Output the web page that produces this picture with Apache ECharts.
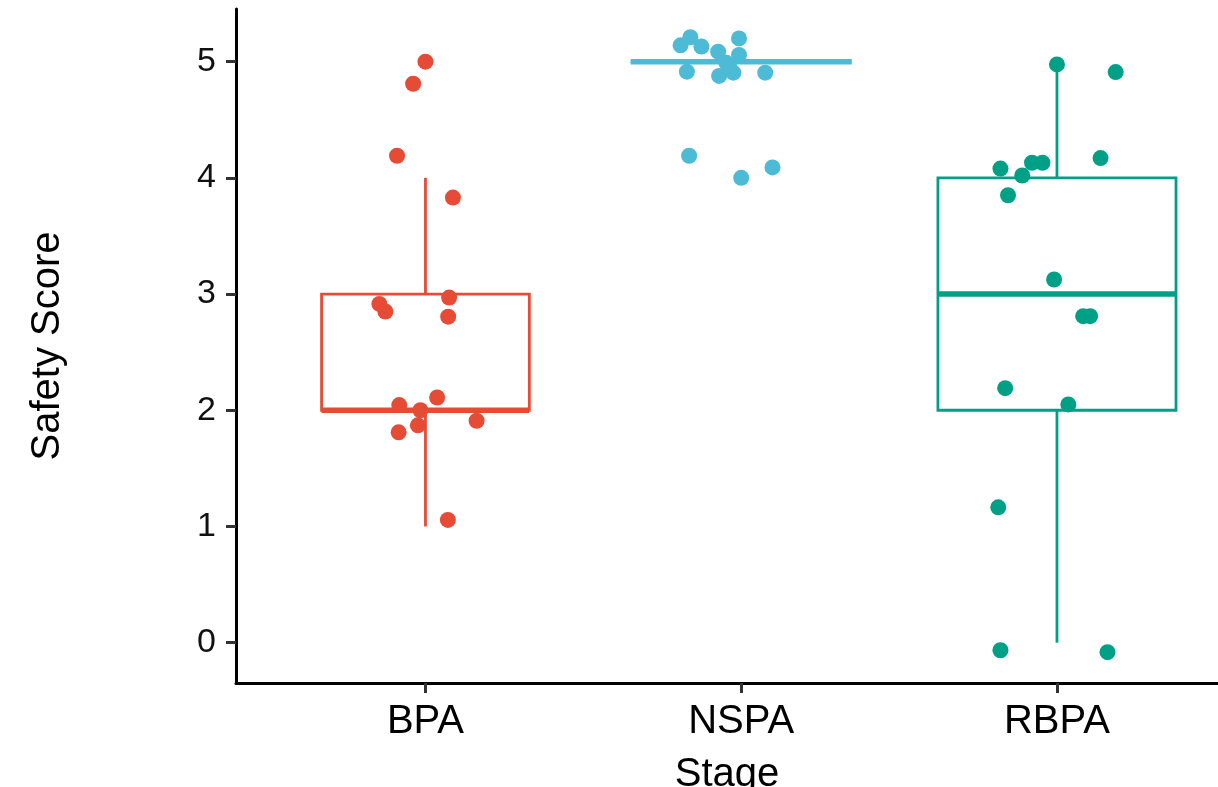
<!DOCTYPE html>
<html>
<head>
<meta charset="utf-8">
<title>Safety Score by Stage</title>
<script src="https://cdn.jsdelivr.net/npm/echarts@6/dist/echarts.min.js"></script>
<style>
  html, body { margin: 0; padding: 0; background: #fff; }
  #chart { width: 1218px; height: 787px; }
</style>
</head>
<body>
<div id="chart"></div>
<script>
// categories on the x axis
const categories = ["BPA", "NSPA", "RBPA"];

// box statistics per stage (whisker low, Q1, median, Q3, whisker high)
const boxLow = [1, 5, 0];
const boxQ1 = [2, 5, 2];
const boxMedian = [2, 5, 3];
const boxQ3 = [3, 5, 4];
const boxHigh = [4, 5, 5];

// jittered observations: score and horizontal jitter from the category centre
const bpaScore = [5.0, 4.81, 4.19, 3.83, 2.915, 2.85, 2.97, 2.805, 2.11, 2.045, 2.0, 1.87, 1.91, 1.81, 1.056];
const bpaJitter = [0.0, -0.039, -0.09, 0.087, -0.146, -0.127, 0.075, 0.072, 0.037, -0.083, -0.016, -0.024, 0.162, -0.085, 0.071];

const nspaScore = [5.21, 5.14, 5.13, 5.2, 5.086, 5.058, 4.99, 4.946, 4.914, 4.877, 4.905, 4.905, 4.19, 4.0, 4.09];
const nspaJitter = [-0.161, -0.192, -0.126, -0.007, -0.073, -0.007, -0.047, -0.037, -0.172, -0.07, -0.025, 0.076, -0.165, 0.0, 0.099];

const rbpaScore = [4.976, 4.91, 4.17, 4.08, 4.13, 4.13, 4.02, 3.85, 3.125, 2.81, 2.81, 2.19, 2.05, 1.165, -0.065, -0.082];
const rbpaJitter = [0.0, 0.186, 0.138, -0.179, -0.079, -0.046, -0.11, -0.155, -0.009, 0.083, 0.105, -0.164, 0.036, -0.186, -0.179, 0.16];

// y axis ticks
const yTicks = [0, 1, 2, 3, 4, 5];

const colors = ["#E64B35", "#4DBBD5", "#00A087"];
const boxHalfWidths = [0.329, 0.35, 0.377];
const fontFamily = "Liberation Sans, Arial, sans-serif";

const chart = echarts.init(document.getElementById("chart"));

const boxData = categories.map((c, i) => [i + 1, boxLow[i], boxQ1[i], boxMedian[i], boxQ3[i], boxHigh[i]]);

function toPoints(scores, jitter, idx) {
  return scores.map((s, k) => [idx + 1 + jitter[k], s]);
}

function renderBox(params, api) {
  const i = params.dataIndex;
  const x = api.value(0);
  const hw = boxHalfWidths[i];
  const color = colors[i];
  const pLow = api.coord([x, api.value(1)]);
  const pQ1 = api.coord([x, api.value(2)]);
  const pMed = api.coord([x, api.value(3)]);
  const pQ3 = api.coord([x, api.value(4)]);
  const pHigh = api.coord([x, api.value(5)]);
  const left = api.coord([x - hw, 0])[0];
  const right = api.coord([x + hw, 0])[0];
  const thin = { stroke: color, lineWidth: 2.8, fill: null };
  const children = [];
  if (pHigh[1] < pQ3[1]) {
    children.push({ type: "line", shape: { x1: pQ3[0], y1: pQ3[1], x2: pHigh[0], y2: pHigh[1] }, style: thin });
  }
  if (pLow[1] > pQ1[1]) {
    children.push({ type: "line", shape: { x1: pQ1[0], y1: pQ1[1], x2: pLow[0], y2: pLow[1] }, style: thin });
  }
  children.push({
    type: "rect",
    shape: { x: left, y: pQ3[1], width: right - left, height: pQ1[1] - pQ3[1] },
    style: thin
  });
  children.push({
    type: "line",
    shape: { x1: left, y1: pMed[1], x2: right, y2: pMed[1] },
    style: { stroke: color, lineWidth: 5.5 }
  });
  return { type: "group", children: children };
}

const scatterBase = {
  type: "scatter",
  symbol: "circle",
  symbolSize: 16,
  z: 5,
  silent: true
};

chart.setOption({
  animation: false,
  backgroundColor: "#fff",
  grid: { left: 236, right: 0, top: 9, bottom: 104, outerBoundsMode: "none", containLabel: false },
  xAxis: {
    type: "value",
    min: 0.4,
    max: 3.51,
    name: "Stage",
    nameLocation: "middle",
    nameGap: 72,
    nameTextStyle: { fontSize: 40, fontFamily: fontFamily, color: "#000" },
    splitLine: { show: false },
    axisLine: { show: true, onZero: false, lineStyle: { color: "#000", width: 3 } },
    axisTick: { show: true, customValues: [1, 2, 3], length: 10, lineStyle: { color: "#333", width: 3 } },
    axisLabel: {
      customValues: [1, 2, 3],
      formatter: (v) => categories[Math.round(v) - 1],
      fontSize: 40,
      fontFamily: fontFamily,
      color: "#000",
      margin: 19
    }
  },
  yAxis: {
    type: "value",
    min: -0.347,
    max: 5.453,
    name: "Safety Score",
    nameLocation: "middle",
    nameRotate: 90,
    nameGap: 168,
    nameTextStyle: { fontSize: 40, fontFamily: fontFamily, color: "#000" },
    splitLine: { show: false },
    axisLine: { show: true, onZero: false, lineStyle: { color: "#000", width: 3 } },
    axisTick: { show: true, customValues: yTicks, length: 10, lineStyle: { color: "#333", width: 3 } },
    axisLabel: {
      customValues: yTicks,
      fontSize: 34,
      fontFamily: fontFamily,
      color: "#111",
      margin: 20
    }
  },
  series: [
    {
      type: "custom",
      renderItem: renderBox,
      data: boxData,
      encode: { x: 0, y: [1, 2, 3, 4, 5] },
      z: 2,
      silent: true
    },
    Object.assign({}, scatterBase, { itemStyle: { color: colors[0], opacity: 1 }, data: toPoints(bpaScore, bpaJitter, 0) }),
    Object.assign({}, scatterBase, { itemStyle: { color: colors[1], opacity: 1 }, data: toPoints(nspaScore, nspaJitter, 1) }),
    Object.assign({}, scatterBase, { itemStyle: { color: colors[2], opacity: 1 }, data: toPoints(rbpaScore, rbpaJitter, 2) })
  ]
});
</script>
</body>
</html>
